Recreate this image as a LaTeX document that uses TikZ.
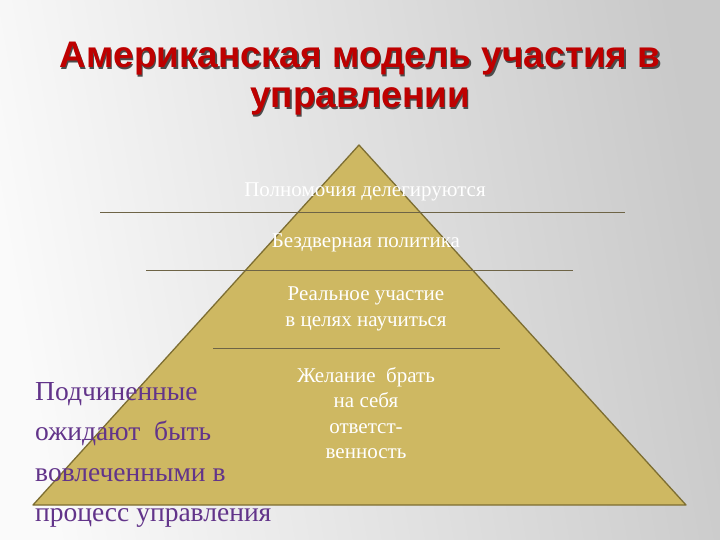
\documentclass[tikz,border=0pt]{standalone}
\usepackage{fontspec}
\setmainfont{Liberation Serif}
\setsansfont{Liberation Sans}
\definecolor{pyrfill}{RGB}{206,184,98}
\definecolor{pyredge}{RGB}{125,110,50}
\definecolor{rulecol}{RGB}{110,100,70}
\definecolor{titlered}{RGB}{190,0,0}
\definecolor{leftviolet}{RGB}{98,52,138}
\tikzset{
  lvltext/.style={text=white, font=\fontsize{21}{25.5}\selectfont, align=center, inner sep=0pt},
  lefttext/.style={text=leftviolet, font=\fontsize{27.5}{40.5}\selectfont, align=left, inner sep=0pt, anchor=north west},
  titletext/.style={font=\sffamily\bfseries\fontsize{37}{40}\selectfont, align=center, inner sep=0pt}
}
\begin{document}
\begin{tikzpicture}[x=1pt,y=-1pt]
  \useasboundingbox (0,0) rectangle (720,540);
  % background
  \shade[left color=gray!4, right color=gray!42, shading angle=100] (0,0) rectangle (720,540);
  % title with shadow
  \node[titletext, text=black!70] (titleshadow) at (361.5,80.5) {Американская модель участия в\\управлении};
  \node[titletext, text=titlered] (title) at (360,79) {Американская модель участия в\\управлении};
  % pyramid
  \coordinate (apex) at (359,145);
  \coordinate (baseL) at (33,505);
  \coordinate (baseR) at (686,505);
  \draw[pyredge, line width=1.3pt, fill=pyrfill, line join=round] (baseL) -- (apex) -- (baseR) -- cycle;
  % dividing rules
  \draw[rulecol, line width=0.6pt] (100,212) -- (625,212);
  \draw[rulecol, line width=0.6pt] (146,270) -- (573,270);
  \draw[rulecol, line width=0.6pt] (213,348) -- (500,348);
  % levels
  \node[lvltext] (lvlA) at (365,192) {Полномочия делегируются};
  \node[lvltext] (lvlB) at (366,243) {Бездверная политика};
  \node[lvltext] (lvlC) at (366,309) {Реальное участие\\в целях научиться};
  \node[lvltext] (lvlD) at (366,413) {Желание\ \ брать\\на себя\\ответст-\\венность};
  % left caption
  \node[lefttext] (subord) at (35,382) {Подчиненные\\ожидают\ \ быть\\вовлеченными в\\процесс управления};
\end{tikzpicture}
\end{document}
